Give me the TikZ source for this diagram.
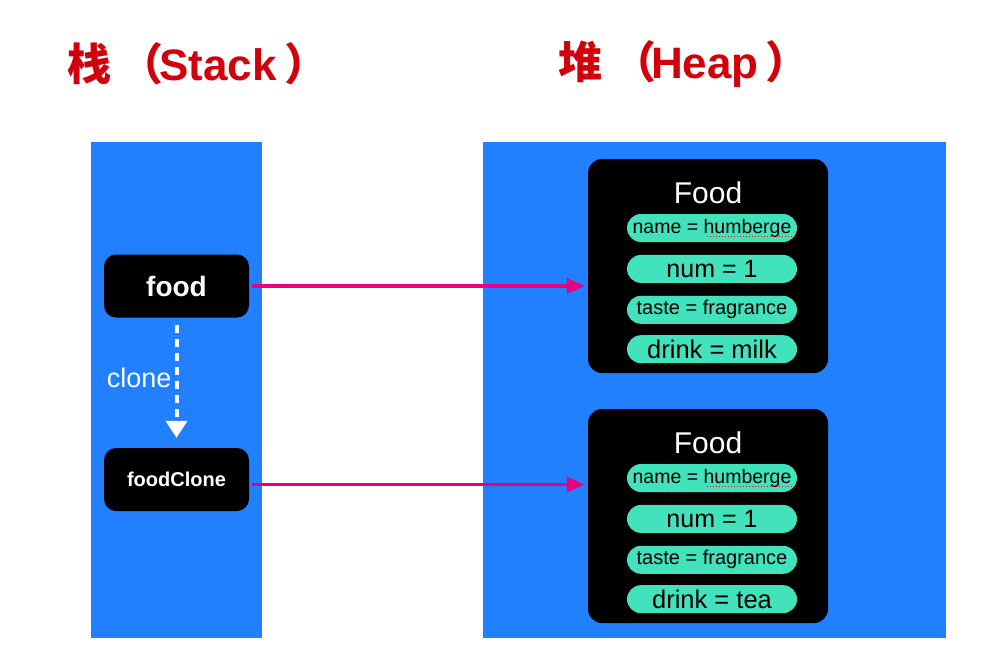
\documentclass[tikz,border=0pt]{standalone}
\usepackage{fontspec}
\setmainfont{Liberation Sans}
\newfontfamily\cjk{Noto Sans CJK SC}
\usetikzlibrary{arrows.meta,%
                positioning}
\definecolor{areablue}{RGB}{32,128,255}
\definecolor{fieldgreen}{RGB}{66,226,188}
\definecolor{titlered}{RGB}{210,0,10}
\definecolor{pointerpink}{RGB}{232,0,128}

\begin{document}
\begin{tikzpicture}[x = 1pt, y = -1pt, node distance = 12.5pt]
  \useasboundingbox (0,0) rectangle (1006,666);
  \tikzset{TitleStyle/.style  = {text           = titlered,
                                 anchor         = west,
                                 font           = \fontsize{44}{48}\selectfont\bfseries,
                                 inner sep      = 0pt}}
  \tikzset{AreaStyle/.style   = {fill           = areablue,
                                 inner sep      = 0pt,
                                 minimum height = 496pt}}
  \tikzset{RefStyle/.style    = {fill           = black,
                                 text           = white,
                                 rounded corners = 12pt,
                                 minimum width  = 145pt,
                                 minimum height = 63pt,
                                 font           = \bfseries}}
  \tikzset{ObjStyle/.style    = {fill           = black,
                                 rounded corners = 14pt,
                                 minimum width  = 240pt,
                                 minimum height = 214pt}}
  \tikzset{FieldStyle/.style  = {fill           = fieldgreen,
                                 text           = black,
                                 rounded corners = 14pt,
                                 inner sep      = 0pt,
                                 minimum width  = 170pt,
                                 minimum height = 28pt}}
  \tikzset{PointerStyle/.style = {draw          = pointerpink,
                                 line width     = 3.5pt,
                                 -{Triangle[length=18pt,width=15pt]}}}
  \tikzset{CloneStyle/.style  = {draw           = white,
                                 line width     = 4pt,
                                 dash pattern   = on 8pt off 6pt,
                                 -{Triangle[length=17pt,width=21pt]}}}
  % titles
  \node[TitleStyle](StackTitle) at (67,64)
       {{\cjk\bfseries 栈\kern8pt（}\kern-4pt Stack\kern8pt{\cjk\bfseries ）}};
  \node[TitleStyle](HeapTitle)  at (558,64)
       {{\cjk\bfseries 堆\kern10pt（}\kern-5pt Heap\kern7pt{\cjk\bfseries ）}};
  % areas
  \node[AreaStyle, minimum width = 171pt](StackArea) at (176.5,390) {};
  \node[AreaStyle, minimum width = 463pt](HeapArea)  at (714.5,390) {};
  % references on the stack
  \node[RefStyle, font = \fontsize{28}{32}\selectfont\bfseries](food) at (176.5,286) {food};
  \node[RefStyle, font = \fontsize{20}{24}\selectfont\bfseries](foodClone) at (176.5,479.5) {foodClone};
  \draw[CloneStyle, shorten < = 7pt, shorten > = 10pt](food) -- node[pos = 0.46, left, inner sep = 3pt, text = white,
        font = \fontsize{27}{30}\selectfont]{clone} (foodClone);
  % objects on the heap
  \foreach \obj/\ypos/\drink in {A/266/milk, B/516/tea}{
     \node[ObjStyle](Food\obj) at (708,\ypos) {};
     \node[text = white, font = \fontsize{30}{34}\selectfont] at ([yshift = -34pt]Food\obj.north) {Food};
     \node[FieldStyle, font = \fontsize{19.5}{22}\selectfont] (Name\obj) at (712,\ypos-38) {name = humberge};
     \node[FieldStyle, font = \fontsize{25}{28}\selectfont, below = of Name\obj] (Num\obj) {num = 1};
     \node[FieldStyle, font = \fontsize{20}{23}\selectfont, below = of Num\obj] (Taste\obj) {taste = fragrance};
     \node[FieldStyle, font = \fontsize{25.5}{28}\selectfont, below = 11pt of Taste\obj] (Drink\obj) {drink = \drink};
     % spell check mark
     \draw[red, dotted, line width = 1pt] ([xshift = -2pt, yshift = -8pt]Name\obj.east) -- ++(-88,0);
  }
  % pointers
  \draw[PointerStyle, shorten < = 3pt, shorten > = 3pt](food.east) -- (food.east -| FoodA.west);
  \draw[PointerStyle, shorten < = 3pt, shorten > = 3pt]([yshift = -5pt]foodClone.east)
        -- ([yshift = -5pt]foodClone.east -| FoodB.west);
\end{tikzpicture}
\end{document}
